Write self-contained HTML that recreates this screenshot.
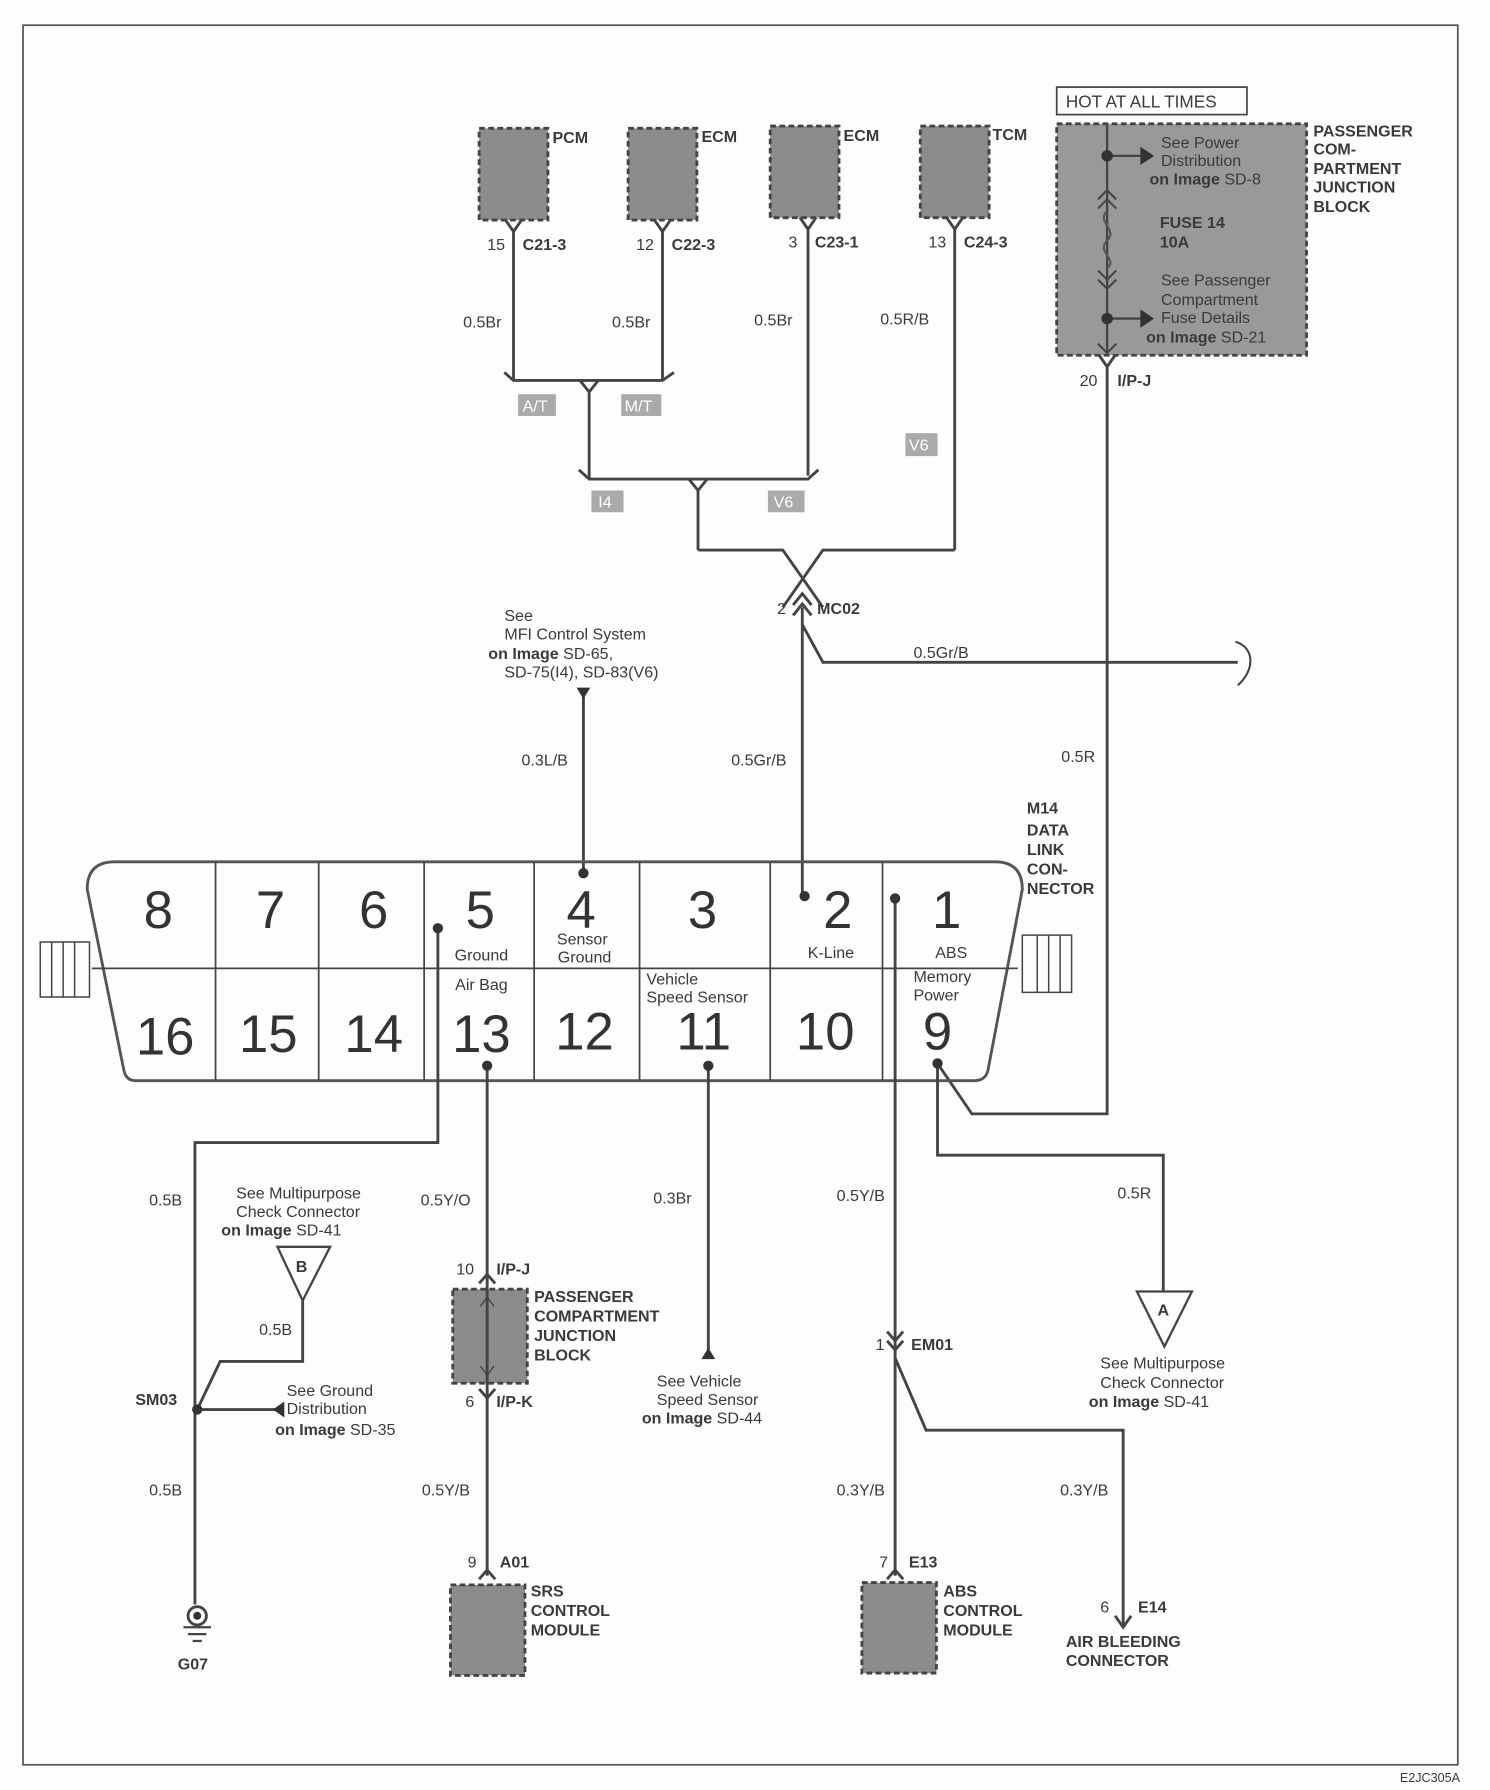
<!DOCTYPE html>
<html><head><meta charset="utf-8"><style>
html,body{margin:0;padding:0;background:#fff;}
svg{display:block;}
text{font-family:"Liberation Sans",sans-serif;fill:#3a3a3a;font-size:14px;}
.b{font-weight:bold;}
.big{font-size:46px;fill:#333;}
</style></head><body>
<svg width="1490" height="1790" viewBox="0 0 1300 1562" xmlns="http://www.w3.org/2000/svg">
<rect x="0" y="0" width="1300" height="1562" fill="#fdfdfd"/>
<rect x="20" y="22" width="1252" height="1518" fill="none" stroke="#555" stroke-width="1.5"/>
<text x="1274" y="1555" text-anchor="end" style="font-size:11px">E2JC305A</text>

<g fill="#8c8c8c" stroke="#444" stroke-width="2.5" stroke-dasharray="5,3">
<rect x="418" y="112" width="60" height="80"/>
<rect x="548" y="112" width="60" height="80"/>
<rect x="672" y="110" width="60" height="80"/>
<rect x="803" y="110" width="60" height="80"/>
<rect x="922" y="108" width="218" height="202" fill="#999"/>
<rect x="395" y="1125" width="65" height="82"/>
<rect x="393" y="1383" width="65" height="79"/>
<rect x="752" y="1381" width="65" height="79"/>
</g>
<rect x="922" y="76" width="166" height="24" fill="none" stroke="#444" stroke-width="1.5"/>
<text x="930" y="94" style="font-size:15px">HOT AT ALL TIMES</text>

<g fill="none" stroke="#444" stroke-width="2.5">
<!-- module connectors -->
<path d="M441,192 L448,202 L455,192 M571,192 L578,202 L585,192 M698,190 L705,200 L712,190 M826,190 L833,200 L840,190"/>
<path d="M448,200 V332 M578,200 V332 M705,198 V415 M833,198 V480"/>
<path d="M440,325 L448,332 H578 L588,325 M506,332 L514,342 L522,332 M514,342 V418"/>
<path d="M505,410 L514,418 H705 L714,410 M601,418 L609,428 L617,418 M609,428 V480"/>
<path d="M609,480 H683 L718,530 M833,480 H718 L683,530"/>
<path d="M692,528 L700,518 L708,528 M692,537 L700,527 L708,537"/>
<path d="M700,530 V782 M700,545 L718,578 H1080"/>
<path d="M1078,560 C1095,565 1095,585 1080,598" stroke-width="1.8"/>
<path d="M509,604 V762"/>
<!-- junction block internals -->
<path d="M966,108 V310 M966,136 H995 M966,278 H995" stroke-width="2"/>
<path d="M958,174 L966,166 L974,174 M958,182 L966,174 L974,182 M958,236 L966,244 L974,236 M958,244 L966,252 L974,244 M958,300 L966,308 L974,300" stroke-width="1.8"/>
<path d="M966,184 C956,194 976,200 966,210 C956,220 976,226 966,234" stroke-width="1.8" stroke="#555"/>
<path d="M959,310 L966,320 L973,310 M966,318 V972 H848 L818,928"/>
<!-- DLC -->
<path d="M100,752 H868 Q892,752 892,776 L862,934 Q860,943 850,943 H118 Q110,943 108,934 L76,776 Q76,752 100,752 Z" stroke="#555"/>
<path d="M80,845 H888 M188,752 V943 M278,752 V943 M370,752 V943 M466,752 V943 M558,752 V943 M672,752 V943 M770,752 V943" stroke-width="1.5"/>
<path d="M35,822 H78 V870 H35 Z M45,822 V870 M55,822 V870 M65,822 V870" stroke-width="1.3"/>
<path d="M892,816 H935 V866 H892 Z M905,816 V866 M915,816 V866 M925,816 V866" stroke-width="1.3"/>
<!-- lower wires -->
<path d="M382,810 V997 H170 V1400"/>
<path d="M264,1135 V1188 H192 L172,1230 M172,1230 H240"/>
<path d="M425,930 V1375 M418,1120 L425,1112 L432,1120 M418,1212 L425,1220 L432,1212 M418,1378 L425,1370 L432,1378"/>
<path d="M425,1132 V1200 M419,1140 L425,1132 L431,1140 M419,1192 L425,1200 L431,1192" stroke-width="1.2"/>
<path d="M618,930 V1178"/>
<path d="M781,784 V1375 M774,1162 L781,1170 L788,1162 M774,1170 L781,1178 L788,1170 M774,1378 L781,1370 L788,1378"/>
<path d="M781,1185 L808,1248 H980 V1418 M973,1410 L980,1420 L987,1410"/>
<path d="M818,928 V1008 H1015 V1127"/>
<path d="M242,1088 H288 L264,1135 Z M992,1127 H1040 L1016,1175 Z" stroke-width="2"/>
<path d="M160,1420 H184 M164,1426 H180 M168,1432 H176" stroke-width="2"/>
<circle cx="172" cy="1410" r="8"/>
</g>
<g fill="#333">
<circle cx="966" cy="136" r="5"/><circle cx="966" cy="278" r="5"/>
<path d="M995,128 L1007,136 L995,144 Z M995,270 L1007,278 L995,286 Z"/>
<path d="M503,600 L515,600 L509,610 Z"/>
<circle cx="509" cy="762" r="4.5"/><circle cx="702" cy="782" r="4.5"/><circle cx="781" cy="784" r="4.5"/><circle cx="382" cy="810" r="4.5"/>
<circle cx="425" cy="930" r="4.5"/><circle cx="618" cy="930" r="4.5"/><circle cx="818" cy="928" r="4.5"/>
<circle cx="172" cy="1230" r="4.5"/><circle cx="172" cy="1410" r="3.5"/>
<path d="M238,1230 L248,1223 L248,1237 Z"/>
<path d="M618,1176 L612,1186 L624,1186 Z"/>
</g>

<g class="b">
<text x="482" y="125">PCM</text><text x="612" y="124">ECM</text><text x="736" y="123">ECM</text><text x="866" y="122">TCM</text>
<text x="456" y="218">C21-3</text><text x="586" y="218">C22-3</text><text x="711" y="216">C23-1</text><text x="841" y="216">C24-3</text>
<text x="713" y="536">MC02</text>
<text x="1146" y="119">PASSENGER</text><text x="1146" y="135">COM-</text><text x="1146" y="152">PARTMENT</text><text x="1146" y="168">JUNCTION</text><text x="1146" y="185">BLOCK</text>
<text x="1012" y="199">FUSE 14</text><text x="1012" y="216">10A</text>
<text x="975" y="337">I/P-J</text>
<text x="896" y="710">M14</text><text x="896" y="729">DATA</text><text x="896" y="746">LINK</text><text x="896" y="763">CON-</text><text x="896" y="780">NECTOR</text>
<text x="433" y="1112">I/P-J</text><text x="433" y="1228">I/P-K</text><text x="436" y="1368">A01</text>
<text x="466" y="1136">PASSENGER</text><text x="466" y="1153">COMPARTMENT</text><text x="466" y="1170">JUNCTION</text><text x="466" y="1187">BLOCK</text>
<text x="463" y="1393">SRS</text><text x="463" y="1410">CONTROL</text><text x="463" y="1427">MODULE</text>
<text x="795" y="1178">EM01</text><text x="793" y="1368">E13</text><text x="993" y="1407">E14</text>
<text x="823" y="1393">ABS</text><text x="823" y="1410">CONTROL</text><text x="823" y="1427">MODULE</text>
<text x="930" y="1437">AIR BLEEDING</text><text x="930" y="1454">CONNECTOR</text>
<text x="118" y="1226">SM03</text><text x="155" y="1457">G07</text>
</g>

<text x="425" y="218">15</text><text x="555" y="218">12</text><text x="688" y="216">3</text><text x="810" y="216">13</text>
<text x="404" y="286">0.5Br</text><text x="534" y="286">0.5Br</text><text x="658" y="284">0.5Br</text><text x="768" y="283">0.5R/B</text>
<rect x="452" y="344" width="33" height="19" fill="#aaa"/><text x="456" y="359" style="fill:#fff">A/T</text>
<rect x="542" y="344" width="35" height="19" fill="#aaa"/><text x="545" y="359" style="fill:#fff">M/T</text>
<rect x="516" y="428" width="28" height="19" fill="#aaa"/><text x="522" y="443" style="fill:#fff">I4</text>
<rect x="670" y="428" width="32" height="19" fill="#aaa"/><text x="675" y="443" style="fill:#fff">V6</text>
<rect x="790" y="378" width="28" height="20" fill="#aaa"/><text x="793" y="393" style="fill:#fff">V6</text>
<text x="678" y="536">2</text>
<text x="797" y="574">0.5Gr/B</text>
<text x="440" y="542">See</text><text x="440" y="558">MFI Control System</text>
<text x="426" y="575"><tspan class="b">on Image</tspan> SD-65,</text><text x="440" y="591">SD-75(I4), SD-83(V6)</text>
<text x="455" y="668">0.3L/B</text><text x="638" y="668">0.5Gr/B</text><text x="926" y="665">0.5R</text>
<text x="1013" y="129">See Power</text><text x="1013" y="145">Distribution</text><text x="1003" y="161"><tspan class="b">on Image</tspan> SD-8</text>
<text x="1013" y="249">See Passenger</text><text x="1013" y="266">Compartment</text><text x="1013" y="282">Fuse Details</text><text x="1000" y="299"><tspan class="b">on Image</tspan> SD-21</text>
<text x="942" y="337">20</text>

<g class="big" text-anchor="middle">
<text x="138" y="810" class="big">8</text><text x="236" y="810" class="big">7</text><text x="326" y="810" class="big">6</text><text x="419" y="810" class="big">5</text>
<text x="507" y="810" class="big">4</text><text x="613" y="810" class="big">3</text><text x="731" y="810" class="big">2</text><text x="826" y="810" class="big">1</text>
<text x="144" y="920" class="big">16</text><text x="234" y="918" class="big">15</text><text x="326" y="918" class="big">14</text><text x="420" y="918" class="big">13</text>
<text x="510" y="916" class="big">12</text><text x="614" y="916" class="big">11</text><text x="720" y="916" class="big">10</text><text x="818" y="916" class="big">9</text>
</g>
<g text-anchor="middle">
<text x="420" y="838">Ground</text><text x="508" y="824">Sensor</text><text x="510" y="840">Ground</text>
<text x="725" y="836">K-Line</text><text x="830" y="836">ABS</text><text x="420" y="864">Air Bag</text>
</g>
<text x="564" y="859">Vehicle</text><text x="564" y="875">Speed Sensor</text>
<text x="797" y="857">Memory</text><text x="797" y="873">Power</text>

<text x="130" y="1052">0.5B</text><text x="367" y="1052">0.5Y/O</text><text x="570" y="1050">0.3Br</text><text x="730" y="1048">0.5Y/B</text><text x="975" y="1046">0.5R</text>
<text x="206" y="1046">See Multipurpose</text><text x="206" y="1062">Check Connector</text><text x="193" y="1078"><tspan class="b">on Image</tspan> SD-41</text>
<text x="258" y="1110" class="b">B</text><text x="1010" y="1148" class="b">A</text>
<text x="226" y="1165">0.5B</text>
<text x="250" y="1218">See Ground</text><text x="250" y="1234">Distribution</text><text x="240" y="1252"><tspan class="b">on Image</tspan> SD-35</text>
<text x="130" y="1305">0.5B</text><text x="368" y="1305">0.5Y/B</text><text x="730" y="1305">0.3Y/B</text><text x="925" y="1305">0.3Y/B</text>
<text x="398" y="1112">10</text><text x="406" y="1228">6</text><text x="408" y="1368">9</text>
<text x="573" y="1210">See Vehicle</text><text x="573" y="1226">Speed Sensor</text><text x="560" y="1242"><tspan class="b">on Image</tspan> SD-44</text>
<text x="764" y="1178">1</text><text x="767" y="1368">7</text><text x="960" y="1407">6</text>
<text x="960" y="1194">See Multipurpose</text><text x="960" y="1211">Check Connector</text><text x="950" y="1228"><tspan class="b">on Image</tspan> SD-41</text>
</svg>
</body></html>
